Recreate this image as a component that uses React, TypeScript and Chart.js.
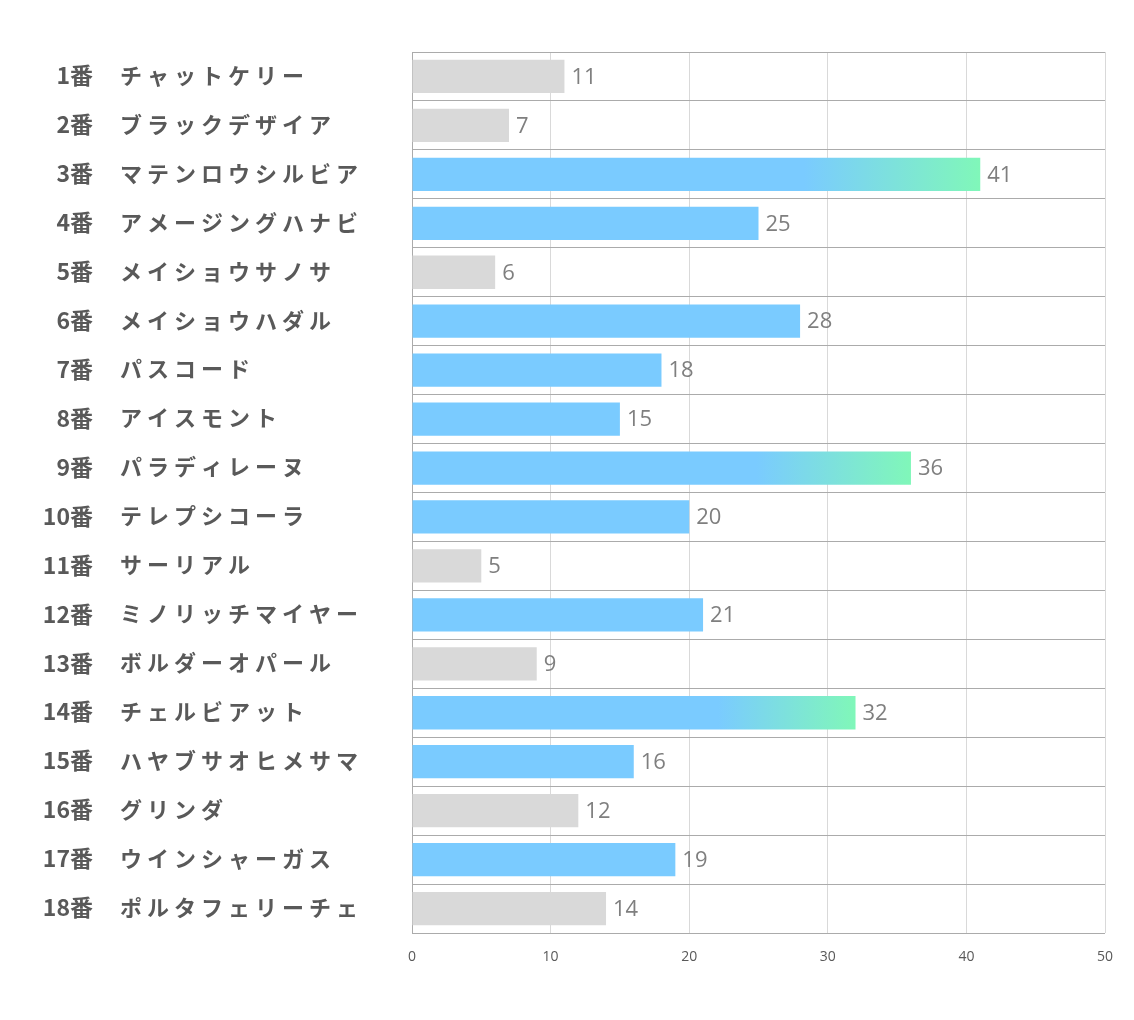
import React, { useEffect, useRef } from "react";
import { Chart, registerables } from "chart.js";

Chart.register(...registerables);

const numbers = ["1番","2番","3番","4番","5番","6番","7番","8番","9番","10番","11番","12番","13番","14番","15番","16番","17番","18番"];
const horses = ["チャットケリー","ブラックデザイア","マテンロウシルビア","アメージングハナビ","メイショウサノサ","メイショウハダル","パスコード","アイスモント","パラディレーヌ","テレプシコーラ","サーリアル","ミノリッチマイヤー","ボルダーオパール","チェルビアット","ハヤブサオヒメサマ","グリンダ","ウインシャーガス","ポルタフェリーチェ"];
const values = [11, 7, 41, 25, 6, 28, 18, 15, 36, 20, 5, 21, 9, 32, 16, 12, 19, 14];
const xTicks = [0, 10, 20, 30, 40, 50];

const GRAY = "#D9D9D9";
const BLUE = "#7ACBFF";
const GREEN = "#80F7B9";

export default function App() {
  const ref = useRef<HTMLCanvasElement | null>(null);

  useEffect(() => {
    document.body.style.margin = "0";
    const canvas = ref.current;
    if (!canvas) return;

    const labelPlugin = {
      id: "rowLabels",
      afterDraw(chart: any) {
        const ctx = chart.ctx;
        const ys = chart.scales.y;
        ctx.save();
        ctx.fillStyle = "#595959";
        ctx.textBaseline = "middle";
        for (let i = 0; i < numbers.length; i++) {
          const y = ys.getPixelForValue(i);
          ctx.font = 'bold 23px "Noto Sans CJK JP"';
          (ctx as any).letterSpacing = "0px";
          ctx.textAlign = "right";
          ctx.fillText(numbers[i], 93, y - 1);
          ctx.font = 'bold 22px "Noto Sans CJK JP"';
          (ctx as any).letterSpacing = "5px";
          ctx.textAlign = "left";
          ctx.fillText(horses[i], 120, y - 1);
        }
        (ctx as any).letterSpacing = "0px";
        const xs = chart.scales.x;
        ctx.font = '22px "Open Sans"';
        ctx.fillStyle = "#7F7F7F";
        ctx.textAlign = "left";
        for (let i = 0; i < values.length; i++) {
          const y = ys.getPixelForValue(i);
          ctx.fillText(String(values[i]), xs.getPixelForValue(values[i]) + 7, y + 1);
        }
        ctx.restore();
      },
    };

    const chart = new Chart(canvas, {
      type: "bar",
      data: {
        labels: numbers.map((n, i) => n + " " + horses[i]),
        datasets: [
          {
            data: values,
            backgroundColor: (c: any) => {
              const v = values[c.dataIndex];
              if (v < 15) return GRAY;
              if (v < 30) return BLUE;
              const chartObj = c.chart;
              const xs = chartObj.scales.x;
              if (!xs) return BLUE;
              const x0 = xs.getPixelForValue(0);
              const x1 = xs.getPixelForValue(v);
              const g = chartObj.ctx.createLinearGradient(x0, 0, x1, 0);
              g.addColorStop(0, BLUE);
              g.addColorStop(0.69, BLUE);
              g.addColorStop(1, GREEN);
              return g;
            },
            borderWidth: 0,
            categoryPercentage: 1,
            barPercentage: 0.68,
          },
        ],
      },
      options: {
        indexAxis: "y",
        animation: false,
        responsive: false,
        maintainAspectRatio: false,
        layout: { padding: { left: 0, right: 29, top: 52, bottom: 0 } },
        plugins: {
          legend: { display: false },
          tooltip: { enabled: false },
        },
        scales: {
          x: {
            min: 0,
            max: 50,
            afterBuildTicks: (s: any) => {
              s.ticks = xTicks.map((v) => ({ value: v }));
            },
            afterFit: (s: any) => {
              s.height = 87;
            },
            grid: { color: "#D9D9D9", lineWidth: 1, drawTicks: false },
            border: { display: false },
            ticks: {
              padding: 16,
              color: "#595959",
              font: { family: "Open Sans", size: 14 },
            },
          },
          y: {
            afterFit: (s: any) => {
              s.width = 412;
            },
            grid: { color: "#ABABAB", lineWidth: 1, drawTicks: false, offset: true },
            border: { display: true, color: "#ABABAB", width: 1 },
            ticks: { display: false },
          },
        },
      },
      plugins: [labelPlugin],
    });

    return () => chart.destroy();
  }, []);

  return <canvas ref={ref} width={1134} height={1020} style={{ display: "block" }} />;
}
